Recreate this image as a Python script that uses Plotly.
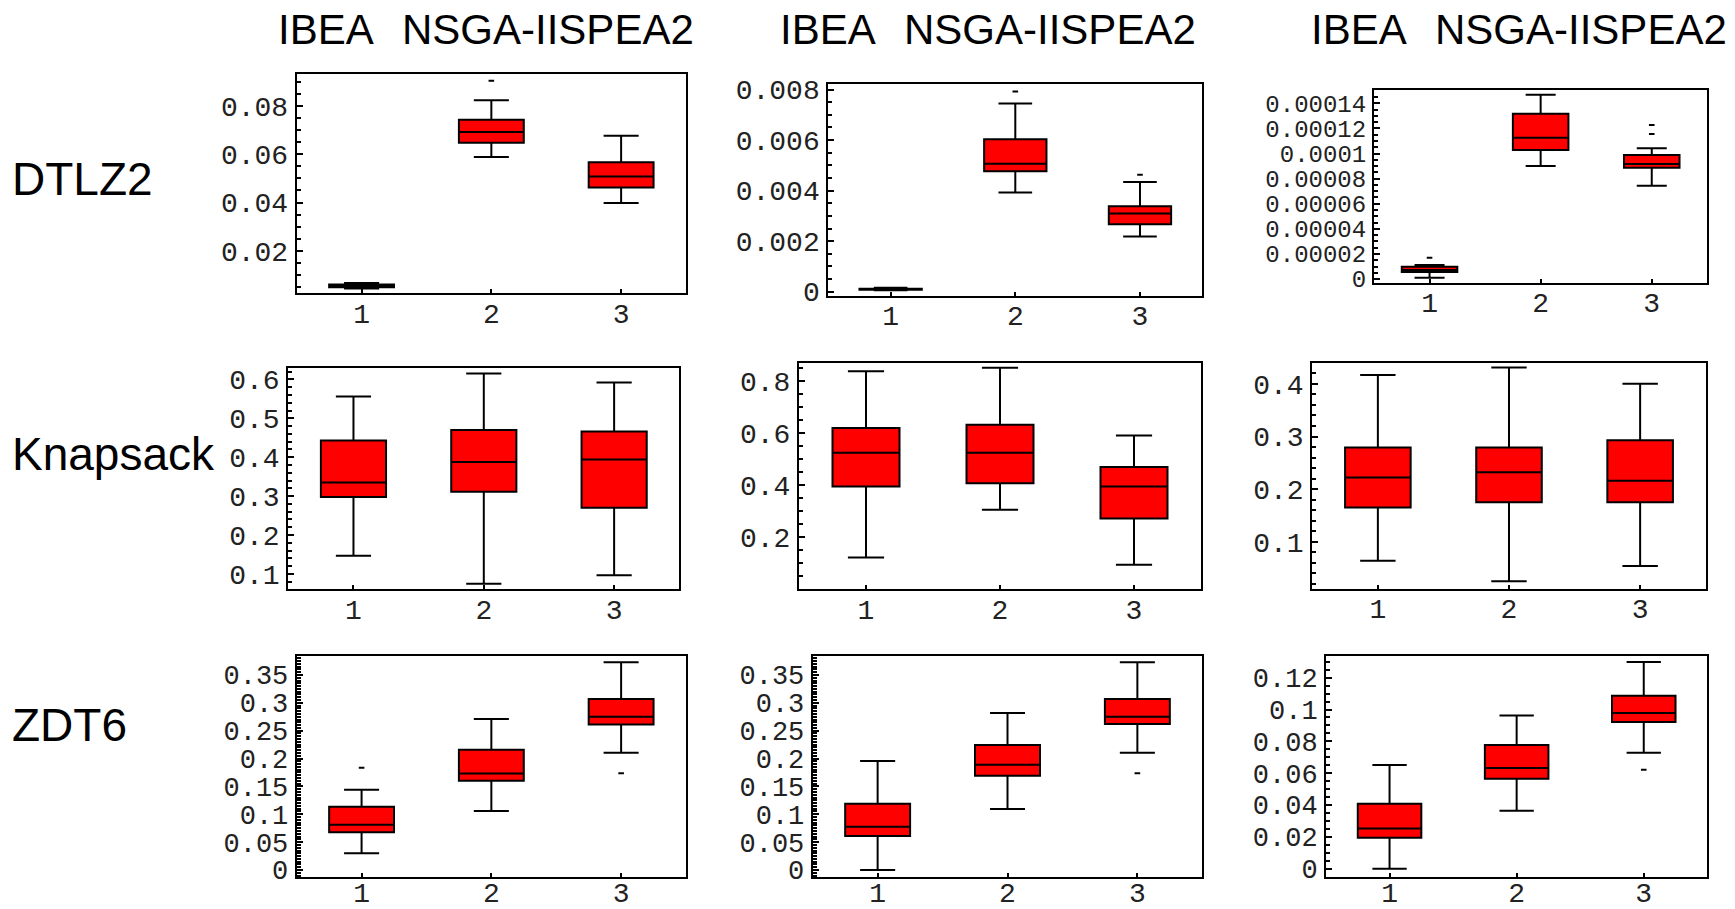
import plotly.graph_objects as go

W, H = 1735, 909

# ---------------- data ----------------
positions = [1, 2, 3]
x_tick_labels = ["1", "2", "3"]
column_titles = ["IBEA", "NSGA-IISPEA2"]
row_labels = ["DTLZ2", "Knapsack", "ZDT6"]

# panels in reading order: row (DTLZ2, Knapsack, ZDT6) x column (3 metrics)
whisker_low = [
    [0.0045, 0.0588, 0.0398],
    [0.00006, 0.00393, 0.00218],
    [1.1e-6, 9.0e-5, 7.44e-5],
    [0.147, 0.075, 0.097],
    [0.123, 0.306, 0.095],
    [0.064, 0.025, 0.054],
    [0.0299, 0.106, 0.2105],
    [0.0, 0.1094, 0.2105],
    [0.0, 0.0364, 0.0729],
]
quartile1 = [
    [0.0050, 0.0647, 0.0462],
    [0.00008, 0.00477, 0.00267],
    [5.6e-6, 1.028e-4, 8.87e-5],
    [0.298, 0.311, 0.270],
    [0.395, 0.407, 0.272],
    [0.165, 0.175, 0.175],
    [0.0676, 0.160, 0.261],
    [0.061, 0.169, 0.262],
    [0.0195, 0.0565, 0.0921],
]
medians = [
    [0.0055, 0.0691, 0.0508],
    [0.0001, 0.00506, 0.00309],
    [7.2e-6, 1.126e-4, 9.16e-5],
    [0.335, 0.388, 0.394],
    [0.524, 0.524, 0.395],
    [0.222, 0.232, 0.216],
    [0.0813, 0.173, 0.275],
    [0.0777, 0.189, 0.275],
    [0.0253, 0.0632, 0.0978],
]
quartile3 = [
    [0.0061, 0.0742, 0.0566],
    [0.00012, 0.00603, 0.00338],
    [9.8e-6, 1.317e-4, 9.88e-5],
    [0.443, 0.470, 0.466],
    [0.619, 0.631, 0.469],
    [0.279, 0.279, 0.293],
    [0.1136, 0.216, 0.307],
    [0.119, 0.2243, 0.307],
    [0.0408, 0.0777, 0.1087],
]
whisker_high = [
    [0.0068, 0.0823, 0.0676],
    [0.00015, 0.00745, 0.00434],
    [1.12e-5, 1.469e-4, 1.041e-4],
    [0.556, 0.615, 0.592],
    [0.836, 0.850, 0.590],
    [0.417, 0.431, 0.400],
    [0.144, 0.271, 0.373],
    [0.1956, 0.2817, 0.373],
    [0.0651, 0.0963, 0.1298],
]
outlier_x = [[2], [2, 3], [1, 3, 3], [], [], [], [1, 3], [3], [3]]
outlier_y = [
    [0.0903],
    [0.00792, 0.00463],
    [1.7e-5, 1.155e-4, 1.227e-4],
    [], [], [],
    [0.1836, 0.1734],
    [0.1734],
    [0.0622],
]

# y-axis tick labels per panel
y_tick_labels = [
    ["0.02", "0.04", "0.06", "0.08"],
    ["0", "0.002", "0.004", "0.006", "0.008"],
    ["0", "0.00002", "0.00004", "0.00006", "0.00008", "0.0001", "0.00012", "0.00014"],
    ["0.1", "0.2", "0.3", "0.4", "0.5", "0.6"],
    ["0.2", "0.4", "0.6", "0.8"],
    ["0.1", "0.2", "0.3", "0.4"],
    ["0", "0.05", "0.1", "0.15", "0.2", "0.25", "0.3", "0.35"],
    ["0", "0.05", "0.1", "0.15", "0.2", "0.25", "0.3", "0.35"],
    ["0", "0.02", "0.04", "0.06", "0.08", "0.1", "0.12"],
]

# ---------------- layout geometry (window pixels) ----------------
panel_px = [
    (296.7, 686.0, 74.0, 293.3),
    (828.3, 1202.3, 84.0, 295.7),
    (1374.0, 1707.3, 90.0, 282.7),
    (288.3, 679.3, 367.7, 589.3),
    (799.0, 1201.0, 362.7, 589.0),
    (1312.3, 1705.7, 363.3, 588.7),
    (296.7, 686.0, 656.0, 876.7),
    (812.7, 1202.3, 656.0, 876.7),
    (1326.0, 1707.3, 656.0, 876.7),
]
y_ranges = [
    [0.0025, 0.0931],
    [-0.00016, 0.00822],
    [-0.0000029, 0.0001506],
    [0.0606, 0.630],
    [0.002, 0.869],
    [0.011, 0.439],
    [-0.012, 0.384],
    [-0.012, 0.384],
    [-0.005, 0.1336],
]
minor_dtick = [0.005, 0.0005, 0.000005, 0.02, 0.05, 0.02, 0.005, 0.005, 0.005]
y_font_size = [28, 28, 24, 28, 28, 28, 27, 27, 27]
x_label_standoff = [-6, -6, -6, -6, -6, -6, -10, -10, -10]


def px_x(x):
    return x / W


def px_y(y):
    return 1 - y / H


mono = "Liberation Mono, Courier New, monospace"
label_font = dict(family="Liberation Sans, Arial, sans-serif", size=46, color="black")
title_font = dict(family="Liberation Sans, Arial, sans-serif", size=42, color="black")

fig = go.Figure()
layout = {}

for i in range(9):
    k = "" if i == 0 else str(i + 1)
    xref, yref = "x" + k, "y" + k
    fig.add_trace(go.Box(
        x=positions,
        q1=quartile1[i], median=medians[i], q3=quartile3[i],
        lowerfence=whisker_low[i], upperfence=whisker_high[i],
        width=0.5, whiskerwidth=0.54,
        fillcolor="#FF0000",
        line=dict(color="black", width=2),
        boxpoints=False,
        showlegend=False,
        xaxis=xref, yaxis=yref,
    ))
    if outlier_y[i]:
        fig.add_trace(go.Scatter(
            x=outlier_x[i], y=outlier_y[i], mode="markers",
            marker=dict(symbol="line-ew", size=4, line=dict(color="black", width=2)),
            showlegend=False, xaxis=xref, yaxis=yref,
        ))
    x0, x1, y0, y1 = panel_px[i]
    tv = [float(t) for t in y_tick_labels[i]]
    layout["xaxis" + k] = dict(
        domain=[px_x(x0), px_x(x1)], anchor=yref, range=[0.5, 3.5],
        automargin=False,
        tickmode="array", tickvals=positions, ticktext=x_tick_labels,
        ticks="inside", ticklen=4, tickwidth=2, tickcolor="black",
        showline=True, mirror=True, linecolor="black", linewidth=2,
        showgrid=False, zeroline=False,
        tickfont=dict(family=mono, size=28, color="#222"),
        ticklabelstandoff=x_label_standoff[i],
    )
    layout["yaxis" + k] = dict(
        domain=[px_y(y1), px_y(y0)], anchor=xref, range=y_ranges[i],
        automargin=False,
        tickmode="array", tickvals=tv, ticktext=y_tick_labels[i],
        ticks="inside", ticklen=6, tickwidth=2, tickcolor="black",
        minor=dict(ticks="inside", ticklen=4, tickwidth=1.5, tickcolor="black",
                   tickmode="linear", tick0=0, dtick=minor_dtick[i], showgrid=False),
        showline=True, mirror=True, linecolor="black", linewidth=2,
        showgrid=False, zeroline=False,
        tickfont=dict(family=mono, size=y_font_size[i], color="#222"),
        ticklabelstandoff=1,
    )

annotations = []
col_title_x = [276.0, 778.0, 1309.0]
title_y = 30
for cx in col_title_x:
    annotations.append(dict(x=px_x(cx), y=px_y(title_y), xref="paper", yref="paper",
                            text=column_titles[0], showarrow=False,
                            xanchor="left", yanchor="middle", font=title_font))
    annotations.append(dict(x=px_x(cx + 124), y=px_y(title_y), xref="paper", yref="paper",
                            text=column_titles[1], showarrow=False,
                            xanchor="left", yanchor="middle", font=title_font))
row_y = [179, 454, 725]
for lab, ry in zip(row_labels, row_y):
    annotations.append(dict(x=px_x(10), y=px_y(ry), xref="paper", yref="paper",
                            text=lab, showarrow=False,
                            xanchor="left", yanchor="middle", font=label_font))

fig.update_layout(
    template="none",
    width=W, height=H,
    margin=dict(l=0, r=0, t=0, b=0, autoexpand=False),
    paper_bgcolor="white", plot_bgcolor="white",
    annotations=annotations,
    **layout,
)

fig.write_html(
    "out.html",
    config={"displayModeBar": False},
    post_script="document.body.style.margin='0px'; document.body.style.overflow='hidden'; document.documentElement.style.overflow='hidden';",
)
